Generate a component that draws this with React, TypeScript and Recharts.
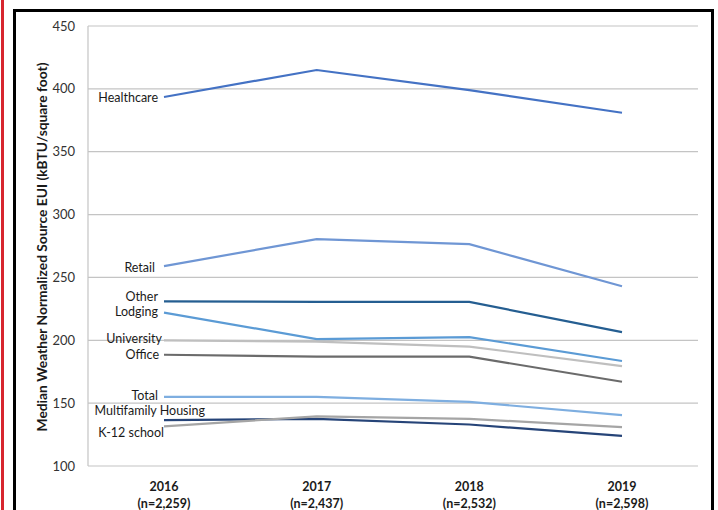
import React from "react";
import {
  LineChart,
  Line,
  XAxis,
  YAxis,
  CartesianGrid,
  LabelList,
  Label,
} from "recharts";

const years = ["2016", "2017", "2018", "2019"];
const sampleSizes = ["(n=2,259)", "(n=2,437)", "(n=2,532)", "(n=2,598)"];
const yTicks = [100, 150, 200, 250, 300, 350, 400, 450];

const healthcare = [393.5, 415, 399, 381];
const retail = [259, 280.5, 276.5, 243];
const other = [231, 230.5, 230.5, 206.5];
const lodging = [222, 201, 202.5, 183.5];
const university = [200, 199, 195, 179.5];
const office = [188.5, 187, 187, 167];
const total = [155, 155, 151, 140.5];
const multifamily = [136.5, 137.5, 133, 124];
const k12 = [131.5, 139.5, 137.5, 131];

const series = [
  { key: "healthcare", name: "Healthcare", values: healthcare, color: "#4472C4", dx: -6, dy: 0 },
  { key: "retail", name: "Retail", values: retail, color: "#6F96D4", dx: -9, dy: 1 },
  { key: "other", name: "Other", values: other, color: "#255E91", dx: -6, dy: -5 },
  { key: "lodging", name: "Lodging", values: lodging, color: "#5B9BD5", dx: -6, dy: -1 },
  { key: "university", name: "University", values: university, color: "#BFBFBF", dx: -2, dy: -2 },
  { key: "office", name: "Office", values: office, color: "#6B6B6B", dx: -5, dy: 0 },
  { key: "total", name: "Total", values: total, color: "#7EAEE0", dx: -6, dy: -1 },
  { key: "multifamily", name: "Multifamily Housing", values: multifamily, color: "#264478", dx: 41, dy: -10 },
  { key: "k12", name: "K-12 school", values: k12, color: "#A5A5A5", dx: 0, dy: 6 },
];

const data = years.map((year, i) => {
  const row: Record<string, string | number> = { year, n: sampleSizes[i] };
  series.forEach((s) => {
    row[s.key] = s.values[i];
  });
  return row;
});

const FONT = "Lato, 'Open Sans', sans-serif";

function YearTick(props: any) {
  const { x, y, payload, index } = props;
  return (
    <g transform={`translate(${x},${y})`}>
      <text
        textAnchor="middle"
        fontFamily={FONT}
        fontWeight={700}
        fontSize={12.5}
        fill="#1a1a1a"
      >
        <tspan x={0} y={17}>{payload.value}</tspan>
        <tspan x={0} y={34}>{sampleSizes[index]}</tspan>
      </text>
    </g>
  );
}

function seriesLabel(name: string, dx: number, dy: number) {
  return (props: any) => {
    const { x, y, index } = props;
    if (index !== 0) return null;
    return (
      <text
        x={x + dx}
        y={y + dy}
        textAnchor="end"
        dominantBaseline="central"
        fontFamily={FONT}
        fontSize={12.5}
        fill="#1a1a1a"
      >
        {name}
      </text>
    );
  };
}

export default function App() {
  return (
    <div
      style={{
        position: "absolute",
        left: 0,
        top: 0,
        width: 718,
        height: 510,
        background: "#fff",
        overflow: "hidden",
      }}
    >
      <div
        style={{
          position: "absolute",
          left: 1,
          top: 0,
          width: 3,
          height: 510,
          background: "#D7262E",
        }}
      />
      <div
        style={{
          position: "absolute",
          left: 13,
          top: 9,
          width: 701,
          height: 520,
          border: "3px solid #000",
          boxSizing: "border-box",
        }}
      />
      <div style={{ position: "absolute", left: 0, top: 0 }}>
        <LineChart
          width={718}
          height={510}
          data={data}
          margin={{ top: 26, right: 20, bottom: 4, left: 38 }}
        >
          <CartesianGrid vertical={false} stroke="#C4C4C4" strokeWidth={1.2} />
          <XAxis
            dataKey="year"
            axisLine={false}
            tickLine={false}
            height={40}
            padding={{ left: 76, right: 76 }}
            tick={<YearTick />}
            interval={0}
          />
          <YAxis
            width={50}
            domain={[100, 450]}
            ticks={yTicks}
            axisLine={{ stroke: "#C4C4C4", strokeWidth: 1.2 }}
            tickLine={false}
            tickMargin={7}
            tick={{ fontFamily: FONT, fontSize: 13, fill: "#333333" }}
          >
            <Label
              content={() => (
                <text
                  x={41}
                  y={247}
                  transform="rotate(-90 41 247)"
                  textAnchor="middle"
                  dominantBaseline="central"
                  fontFamily={FONT}
                  fontWeight={700}
                  fontSize={13.8}
                  fill="#1a1a1a"
                >
                  Median Weather Normalized Source EUI (kBTU/square foot)
                </text>
              )}
            />
          </YAxis>
          {series.map((s) => (
            <Line
              key={s.key}
              type="linear"
              dataKey={s.key}
              stroke={s.color}
              strokeWidth={2.2}
              dot={false}
              isAnimationActive={false}
            >
              <LabelList dataKey={s.key} content={seriesLabel(s.name, s.dx, s.dy)} />
            </Line>
          ))}
        </LineChart>
      </div>
    </div>
  );
}
